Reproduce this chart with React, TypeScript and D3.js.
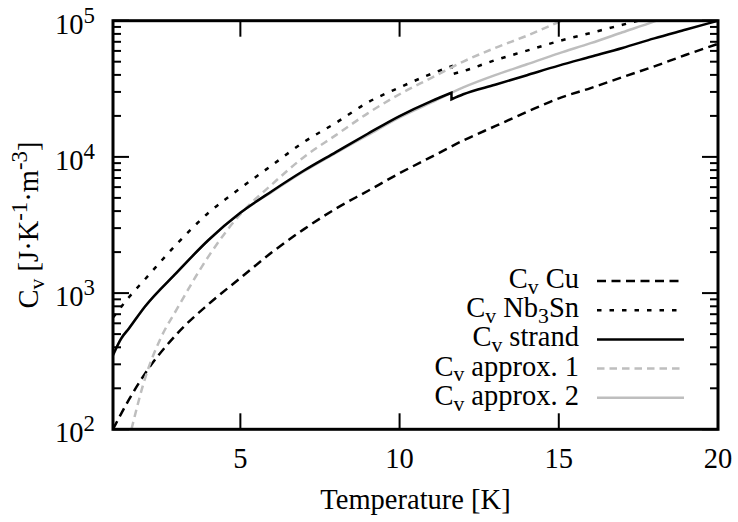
import React, { useEffect, useRef } from 'react';
import * as d3 from 'd3';

// Temperature [K] and volumetric heat capacity [J K^-1 m^-3]
const cuT = [1, 1.5, 2, 3, 4, 5, 6, 7, 8, 9, 10, 11, 12, 13, 14, 15, 16, 17, 18, 19, 20];
const cuV = [100, 165, 255, 500, 830, 1290, 2000, 2950, 4170, 5620, 7590, 10000, 13200, 16800, 21400, 26900, 32000, 38500, 46200, 56200, 67600];

const nbT1 = [1, 1.5, 2, 3, 4, 5, 6, 7, 8, 9, 10, 11, 11.63];
const nbV1 = [661, 933, 1259, 2291, 3890, 5888, 8710, 12880, 17780, 25120, 32360, 40740, 46240];
const nbT2 = [11.63, 12, 13, 14, 15, 16, 17, 18];
const nbV2 = [40370, 42660, 51290, 60260, 70800, 81280, 93330, 107150];

const strandT1 = [1, 1.25, 1.5, 2, 3, 4, 5, 6, 7, 8, 9, 10, 11, 11.63];
const strandV1 = [351, 462, 550, 794, 1413, 2455, 3890, 5623, 7943, 10840, 14790, 19950, 25700, 29580];
const strandT2 = [11.63, 12, 13, 14, 15, 16, 17, 18, 19, 20];
const strandV2 = [26490, 28840, 33880, 39810, 46770, 54330, 63100, 74130, 86100, 100000];

const ap1T = [1.58, 2, 2.5, 3, 4, 5, 6, 7, 8, 9, 10, 11, 12, 13, 14, 15, 15.5];
const ap1V = [100, 234, 468, 759, 1862, 3802, 6310, 10000, 14450, 20890, 28840, 38020, 50120, 63100, 77620, 97720, 109650];

const ap2T = [1, 1.25, 1.5, 2, 3, 4, 5, 6, 7, 8, 9, 10, 11, 12, 13, 14, 15, 16, 17, 18, 18.5];
const ap2V = [347, 458, 550, 794, 1413, 2455, 3890, 5559, 7852, 10715, 14454, 19498, 25119, 32359, 39811, 47863, 57544, 68390, 82224, 98855, 109648];

const xTicks = [5, 10, 15, 20];
const yMajor = [2, 3, 4, 5];

type Part = { t: string; sub?: boolean; sup?: boolean };
const legendItems: { label: Part[]; color: string; dash: string | null }[] = [
  { label: [{ t: 'C' }, { t: 'v', sub: true }, { t: ' Cu' }], color: '#000', dash: '9,5.5' },
  { label: [{ t: 'C' }, { t: 'v', sub: true }, { t: ' Nb' }, { t: '3', sub: true }, { t: 'Sn' }], color: '#000', dash: '4.5,8' },
  { label: [{ t: 'C' }, { t: 'v', sub: true }, { t: ' strand' }], color: '#000', dash: null },
  { label: [{ t: 'C' }, { t: 'v', sub: true }, { t: ' approx. 1' }], color: '#bebebe', dash: '7.5,5' },
  { label: [{ t: 'C' }, { t: 'v', sub: true }, { t: ' approx. 2' }], color: '#bebebe', dash: null },
];

const W = 738, H = 522;
const X0 = 113, X1 = 718, Y0 = 20.7, Y1 = 429.3;
const FS = 28.5;
const FONT = "'Liberation Serif', 'Times New Roman', 'DejaVu Serif', serif";

function rich(sel: any, parts: Part[], size: number) {
  let shift = 0;
  parts.forEach((p) => {
    const target = p.sub ? 0.2 * size : p.sup ? -0.38 * size : 0;
    sel.append('tspan')
      .attr('dy', target - shift)
      .style('font-family', FONT)
      .style('font-size', `${p.sub ? size * 0.76 : p.sup ? size * 0.8 : size}px`)
      .text(p.t);
    shift = target;
  });
}

export default function App() {
  const ref = useRef<SVGSVGElement>(null);
  useEffect(() => {
    const svg = d3.select(ref.current);
    svg.selectAll('*').remove();
    const x = d3.scaleLinear().domain([1, 20]).range([X0, X1]);
    const y = d3.scaleLog().domain([100, 100000]).range([Y1, Y0]);

    svg.append('rect').attr('width', W).attr('height', H).attr('fill', '#fff');
    svg.append('defs').append('clipPath').attr('id', 'plotclip')
      .append('rect').attr('x', X0).attr('y', Y0).attr('width', X1 - X0).attr('height', Y1 - Y0);

    const line = d3.line<[number, number]>().x((d) => x(d[0])).y((d) => y(d[1])).curve(d3.curveMonotoneX);
    const pts = (T: number[], V: number[]) => T.map((t, i) => [t, V[i]] as [number, number]);
    const joined = (a: [number, number][], b: [number, number][]) =>
      (line(a) || '') + (line(b) || '').replace(/^M/, 'L');

    const g = svg.append('g').attr('clip-path', 'url(#plotclip)');
    const series: { d: string; color: string; dash: string | null }[] = [
      { d: line(pts(cuT, cuV)) || '', color: '#000', dash: legendItems[0].dash },
      { d: joined(pts(nbT1, nbV1), pts(nbT2, nbV2)), color: '#000', dash: legendItems[1].dash },
      { d: line(pts(ap1T, ap1V)) || '', color: '#bebebe', dash: legendItems[3].dash },
      { d: line(pts(ap2T, ap2V)) || '', color: '#bebebe', dash: null },
      { d: joined(pts(strandT1, strandV1), pts(strandT2, strandV2)), color: '#000', dash: null },
    ];
    series.forEach((s) => {
      const p = g.append('path').attr('d', s.d).attr('fill', 'none')
        .attr('stroke', s.color).attr('stroke-width', 2.5);
      if (s.dash) p.attr('stroke-dasharray', s.dash);
    });

    // ticks
    const tk = svg.append('g').attr('stroke', '#000').attr('stroke-width', 2);
    yMajor.forEach((e) => {
      const yy = y(Math.pow(10, e));
      tk.append('line').attr('x1', X0).attr('x2', X0 + 16).attr('y1', yy).attr('y2', yy);
      tk.append('line').attr('x1', X1).attr('x2', X1 - 16).attr('y1', yy).attr('y2', yy);
      if (e < 5) {
        for (let m = 2; m <= 9; m++) {
          const ym = y(m * Math.pow(10, e));
          tk.append('line').attr('x1', X0).attr('x2', X0 + 8).attr('y1', ym).attr('y2', ym);
          tk.append('line').attr('x1', X1).attr('x2', X1 - 8).attr('y1', ym).attr('y2', ym);
        }
      }
    });
    xTicks.forEach((t) => {
      const xx = x(t);
      tk.append('line').attr('x1', xx).attr('x2', xx).attr('y1', Y1).attr('y2', Y1 - 16);
      tk.append('line').attr('x1', xx).attr('x2', xx).attr('y1', Y0).attr('y2', Y0 + 16);
    });

    svg.append('rect').attr('x', X0).attr('y', Y0).attr('width', X1 - X0).attr('height', Y1 - Y0)
      .attr('fill', 'none').attr('stroke', '#000').attr('stroke-width', 3);

    const txt = svg.append('g').style('font-family', FONT).style('font-size', `${FS}px`).attr('fill', '#000')
      .style('white-space', 'pre');

    yMajor.forEach((e) => {
      const t = txt.append('text').attr('x', 95).attr('y', y(Math.pow(10, e)) + 13).attr('text-anchor', 'end');
      rich(t, [{ t: '10' }, { t: String(e), sup: true }], FS);
    });
    xTicks.forEach((v) => {
      txt.append('text').attr('x', x(v)).attr('y', 468).attr('text-anchor', 'middle')
        .style('font-family', FONT).text(String(v));
    });
    txt.append('text').attr('x', (X0 + X1) / 2).attr('y', 509).attr('text-anchor', 'middle')
      .style('font-family', FONT).text('Temperature [K]');
    const yl = txt.append('text').attr('transform', `translate(38,${(Y0 + Y1) / 2}) rotate(-90)`).attr('text-anchor', 'middle');
    rich(yl, [{ t: 'C' }, { t: 'v', sub: true }, { t: ' [J·K' }, { t: '-1', sup: true }, { t: '·m' }, { t: '-3', sup: true }, { t: ']' }], FS);

    legendItems.forEach((it, i) => {
      const ry = 281 + i * 29.2;
      const t = txt.append('text').attr('x', 579).attr('y', ry + 7).attr('text-anchor', 'end');
      rich(t, it.label, FS);
      const l = svg.append('line').attr('x1', 597).attr('x2', 684).attr('y1', ry).attr('y2', ry)
        .attr('stroke', it.color).attr('stroke-width', 2.5);
      if (it.dash) l.attr('stroke-dasharray', it.dash);
    });
  }, []);
  return <svg ref={ref} width={W} height={H} style={{ position: 'absolute', left: 0, top: 0 }} />;
}
